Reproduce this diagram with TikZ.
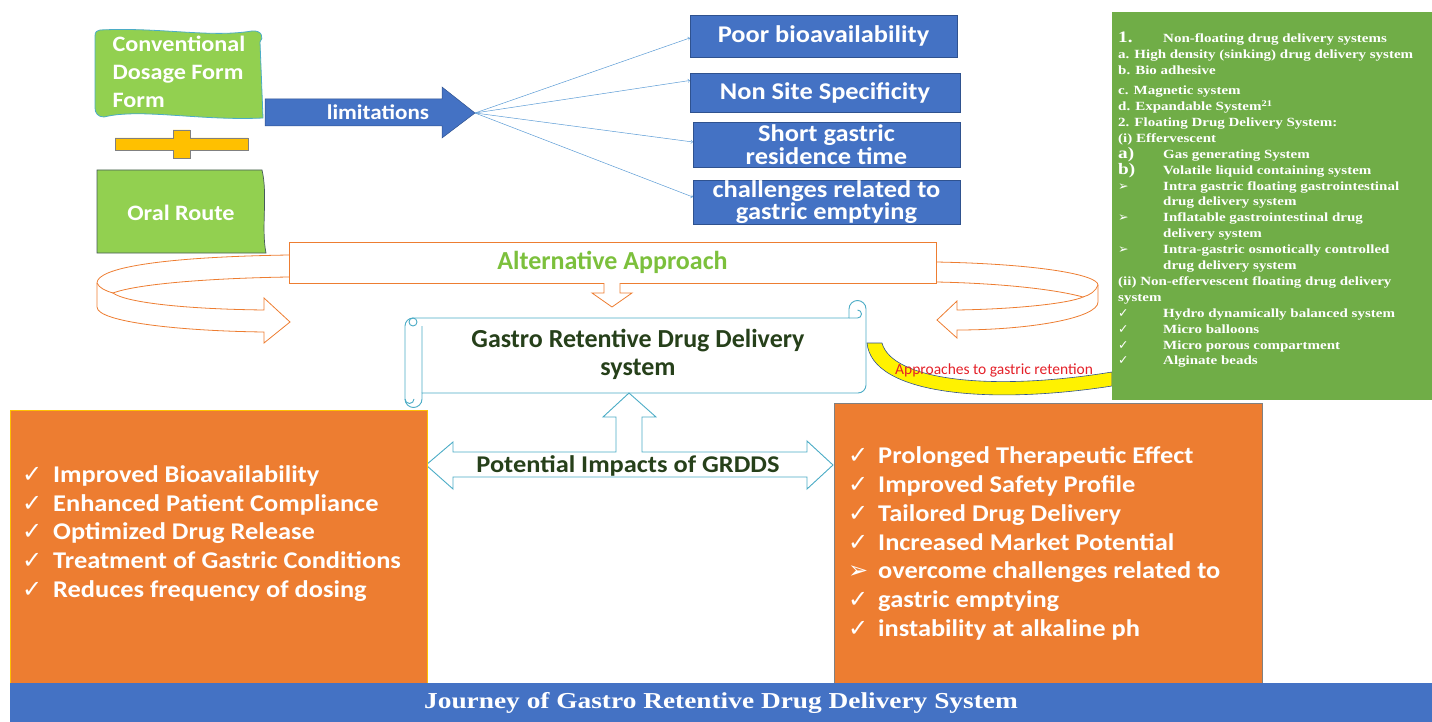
\documentclass[tikz,border=0pt]{standalone}
\usepackage{fontspec}
\setmainfont{Carlito}
\newfontfamily\widefont{Carlito}[FakeStretch=1.1]
\newfontfamily\timesfont{Liberation Serif}[FakeStretch=1.2]
\newfontfamily\symfont{DejaVu Sans}
\usetikzlibrary{calc}

\definecolor{boxblue}{RGB}{68,114,196}
\definecolor{edgeblue}{RGB}{47,82,143}
\definecolor{fanblue}{RGB}{91,155,213}
\definecolor{benefitorange}{RGB}{237,125,49}
\definecolor{formgreen}{RGB}{146,208,80}
\definecolor{panelgreen}{RGB}{112,173,71}
\definecolor{plusgold}{RGB}{255,192,0}
\definecolor{scrollcyan}{RGB}{75,172,198}
\definecolor{deepgreen}{RGB}{38,64,26}
\definecolor{altgreen}{RGB}{124,192,60}
\definecolor{retentionred}{RGB}{228,32,40}
\definecolor{oraledge}{RGB}{70,90,90}

\begin{document}
\begin{tikzpicture}[x=1pt, y=-1pt,
    limitbox/.style={draw=edgeblue, fill=boxblue, text=white, inner sep=0pt, align=center,
        font={\fontsize{24}{24}\selectfont\widefont\bfseries}},
    formtext/.style={text=white, align=left, inner sep=0pt,
        font={\fontsize{22}{28}\selectfont\widefont\bfseries}},
    loopline/.style={draw=benefitorange, line width=0.8pt},
    fanline/.style={draw=fanblue, line width=0.5pt, ->},
    benefitbox/.style={fill=benefitorange, inner sep=0pt},
    benefitlist/.style={text=white, align=left, inner sep=0pt,
        font={\fontsize{24}{28.8}\selectfont\widefont\bfseries}},
    headline/.style={text=deepgreen, align=center, inner sep=0pt}]

\useasboundingbox (0,0) rectangle (1432,722);

% conventional dosage form + oral route
\draw[draw=scrollcyan, fill=formgreen, line width=0.8pt] (100,30) .. controls (160,27) and (210,38) .. (252,31)
    .. controls (262,30) and (264,38) .. (260,42) -- (263,118) .. controls (200,121) and (140,108) .. (104,117)
    .. controls (98,117) and (95,113) .. (95,108) -- (95,36) .. controls (95,32) and (97,30) .. (100,30) -- cycle;
\node[formtext] (conv) at (179,72) {Conventional\\Dosage Form\\Form};

\draw[draw=gray, fill=plusgold, line width=0.6pt] (115,138) -- (173,138) -- (173,130) -- (190,130) -- (190,138)
    -- (248,138) -- (248,150) -- (190,150) -- (190,158) -- (173,158) -- (173,150) -- (115,150) -- cycle;

\draw[draw=oraledge, fill=formgreen, line width=0.7pt] (97,170) -- (262,170)
    .. controls (268,195) and (261,228) .. (266,253) -- (97,253) -- cycle;
\node[formtext] (oral) at (181,213) {Oral Route};

% limitations
\draw[draw=edgeblue, fill=boxblue, line width=0.5pt] (265,99) -- (442,99) -- (442,87) -- (475,113)
    -- (442,138) -- (442,126) -- (265,126) -- cycle;
\coordinate (fan) at (475,113);
\node[text=white, font={\fontsize{21}{21}\selectfont\widefont\bfseries}] (lim) at (378,112) {limitations};

\node[limitbox, minimum width=267, minimum height=42] (poor) at (823.5,36) {Poor bioavailability};
\node[limitbox, minimum width=270, minimum height=39] (nonsite) at (825,92.5) {Non Site Specificity};
\node[limitbox, minimum width=267, minimum height=45, font={\fontsize{24}{23}\selectfont\widefont\bfseries}] (short) at (826.5,145) {Short gastric\\residence time};
\node[limitbox, minimum width=267, minimum height=44, font={\fontsize{24}{22}\selectfont\widefont\bfseries}] (chall) at (826.5,202) {challenges related to\\gastric emptying};

\draw[fanline] (fan) -- ([yshift=-2pt]poor.west);
\draw[fanline] (fan) -- ([yshift=12pt]nonsite.west);
\draw[fanline] (fan) -- ([yshift=3pt]short.west);
\draw[fanline] (fan) -- ([yshift=5pt]chall.west);

% alternative approach
\node[loopline, fill=white, minimum width=647, minimum height=41, inner sep=0pt] (alt) at (612.5,262.5) {};
\node[text=altgreen, font={\fontsize{26}{26}\selectfont\bfseries}] (altlabel) at (alt) {Alternative Approach};
\draw[loopline, fill=white] (604,283) -- (604,293) -- (592,293) -- (612,307) -- (632,293) -- (620,293) -- (620,283);

\draw[loopline] (289,255) .. controls (160,257) and (97,268) .. (97,283) -- (97,307)
    .. controls (97,322) and (180,331) .. (264,332) -- (264,343) -- (290,322) -- (264,298) -- (264,310)
    .. controls (180,309) and (125,302) .. (113,293) .. controls (140,283) and (220,278) .. (289,277);
\draw[loopline] (97,283) .. controls (99,288) and (106,291) .. (113,293);

\draw[loopline] (936,262) .. controls (1040,264) and (1098,275) .. (1098,285) -- (1098,302)
    .. controls (1098,318) and (1030,330) .. (957,330) -- (957,338) -- (937,320) -- (957,301) -- (957,310)
    .. controls (1020,309) and (1070,303) .. (1083,297) .. controls (1050,288) and (990,283) .. (936,282);
\draw[loopline] (1098,285) .. controls (1096,291) and (1090,295) .. (1083,297);

% gastro retentive scroll
\draw[draw=scrollcyan, fill=white, line width=0.9pt] (413,318) -- (849,318) -- (849,309)
    arc[start angle=180, end angle=360, radius=8.5] -- (866,385) arc[start angle=0, end angle=90, radius=8]
    -- (422,393) -- (422,399) arc[start angle=0, end angle=180, radius=8.5] -- (405,326)
    arc[start angle=180, end angle=270, radius=8] -- cycle;
\draw[draw=scrollcyan, line width=0.9pt] (849,318) -- (857.5,318) arc[start angle=90, end angle=-90, radius=4];
\draw[draw=scrollcyan, line width=0.9pt] (413,322) circle[radius=4] (422,326) -- (422,393);
\draw[draw=scrollcyan, line width=0.9pt] (405,399) arc[start angle=180, end angle=0, radius=4.5];
\node[headline, font={\fontsize{26}{28}\selectfont\bfseries}] (grdds) at (638,354) {Gastro Retentive Drug Delivery\\system};

% potential impacts
\draw[draw=scrollcyan, fill=white, line width=0.9pt] (629,393) -- (656,417) -- (642,417) -- (642,452) -- (807,452)
    -- (807,441) -- (833,465) -- (807,489) -- (807,477) -- (453,477) -- (453,489) -- (426,465) -- (453,442)
    -- (453,452) -- (616,452) -- (616,417) -- (603,417) -- cycle;
\node[headline, font={\fontsize{24}{24}\selectfont\widefont\bfseries}] (impacts) at (628,466) {Potential Impacts of GRDDS};

% approaches to gastric retention
\draw[draw=edgeblue, fill=yellow, line width=0.6pt] (867,343) -- (882,343) .. controls (892,380) and (990,392) .. (1112,372)
    -- (1112,386) .. controls (990,405) and (872,395) .. (867,343) -- cycle;
\node[anchor=west, inner sep=0pt, text=retentionred, font={\fontsize{15.5}{15.5}\selectfont}] (approach) at (895,370) {Approaches to gastric retention};

% types panel
\node[fill=panelgreen, minimum width=320, minimum height=388, inner sep=0pt] (panel) at (1272,206) {};
\node[anchor=west, inner sep=0pt, text=white, align=left, font={\fontsize{12.5}{15.9}\selectfont\timesfont\bfseries}] (types) at (1118,200) {%
\makebox[45pt][l]{\fontsize{16}{15.9}\selectfont 1.}Non-floating drug delivery systems\\
a. High density (sinking) drug delivery system\\
b. Bio adhesive\\[4pt]
c. Magnetic system\\
d. Expandable System\textsuperscript{21}\\
2. Floating Drug Delivery System:\\
(i) Effervescent\\
\makebox[45pt][l]{\fontsize{16}{15.9}\selectfont a)}Gas generating System\\
\makebox[45pt][l]{\fontsize{16}{15.9}\selectfont b)}Volatile liquid containing system\\
\makebox[45pt][l]{\symfont ➢}Intra gastric floating gastrointestinal\\
\hspace*{45pt}drug delivery system\\
\makebox[45pt][l]{\symfont ➢}Inflatable gastrointestinal drug\\
\hspace*{45pt}delivery system\\
\makebox[45pt][l]{\symfont ➢}Intra-gastric osmotically controlled\\
\hspace*{45pt}drug delivery system\\
(ii) Non-effervescent floating drug delivery\\
system\\
\makebox[45pt][l]{\symfont ✓}Hydro dynamically balanced system\\
\makebox[45pt][l]{\symfont ✓}Micro balloons\\
\makebox[45pt][l]{\symfont ✓}Micro porous compartment\\
\makebox[45pt][l]{\symfont ✓}Alginate beads};

% benefits
\node[benefitbox, draw=plusgold, minimum width=417, minimum height=273] (leftbox) at (218.5,546.5) {};
\node[benefitlist, anchor=west] (leftlist) at (22,533.5) {%
\makebox[31pt][l]{\symfont ✓}Improved Bioavailability\\
\makebox[31pt][l]{\symfont ✓}Enhanced Patient Compliance\\
\makebox[31pt][l]{\symfont ✓}Optimized Drug Release\\
\makebox[31pt][l]{\symfont ✓}Treatment of Gastric Conditions\\
\makebox[31pt][l]{\symfont ✓}Reduces frequency of dosing};

\node[benefitbox, draw=gray, minimum width=428, minimum height=280] (rightbox) at (1048,543) {};
\node[benefitlist, anchor=west] (rightlist) at (848,543.5) {%
\makebox[30pt][l]{\symfont ✓}Prolonged Therapeutic Effect\\
\makebox[30pt][l]{\symfont ✓}Improved Safety Profile\\
\makebox[30pt][l]{\symfont ✓}Tailored Drug Delivery\\
\makebox[30pt][l]{\symfont ✓}Increased Market Potential\\
\makebox[30pt][l]{\symfont ➢}overcome challenges related to\\
\makebox[30pt][l]{\symfont ✓}gastric emptying\\
\makebox[30pt][l]{\symfont ✓}instability at alkaline ph};

% title banner
\node[fill=boxblue, text=white, minimum width=1422, minimum height=39, inner sep=0pt,
    font={\fontsize{22.8}{22.8}\selectfont\timesfont\bfseries}] (journey) at (721,702.5) {Journey of Gastro Retentive Drug Delivery System};
\end{tikzpicture}
\end{document}
